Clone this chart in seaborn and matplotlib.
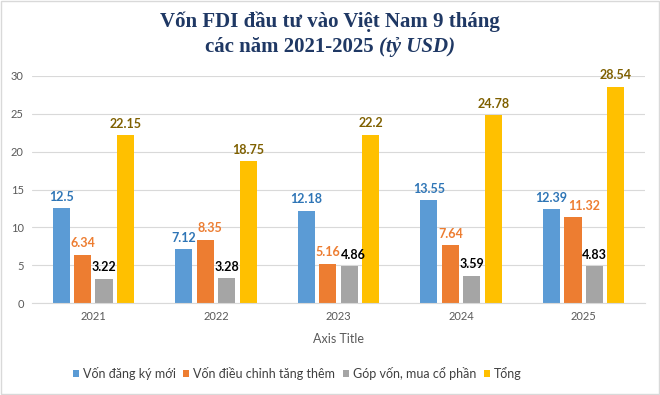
import pandas as pd
import matplotlib.pyplot as plt
import seaborn as sns
from matplotlib.patches import Rectangle

years = ["2021", "2022", "2023", "2024", "2025"]
von_moi = [12.5, 7.12, 12.18, 13.55, 12.39]
dieu_chinh = [6.34, 8.35, 5.16, 7.64, 11.32]
gop_von = [3.22, 3.28, 4.86, 3.59, 4.83]
tong = [22.15, 18.75, 22.2, 24.78, 28.54]
series = ["Vốn đăng ký mới", "Vốn điều chỉnh tăng thêm", "Góp vốn, mua cổ phần", "Tổng"]

bar_colors = ["#5B9BD5", "#ED7D31", "#A5A5A5", "#FFC000"]
label_colors = ["#2E75B6", "#ED7D31", "#000000", "#7F6000"]

df = pd.DataFrame({
    "year": years * 4,
    "value": von_moi + dieu_chinh + gop_von + tong,
    "series": [s for s in series for _ in years],
})

sns.set_style("white")
plt.rcParams["font.family"] = ["Lato", "Noto Sans", "DejaVu Sans"]

fig = plt.figure(figsize=(6.6, 3.95), dpi=100)
ax = fig.add_axes([32 / 660, 1 - 303 / 395, 613 / 660, 227 / 395])

sns.barplot(data=df, x="year", y="value", hue="series", palette=bar_colors,
            saturation=1, width=0.7, gap=0.2, linewidth=0, ax=ax, legend=True)

all_labels = []
for cont, c in zip(ax.containers, label_colors):
    anns = ax.bar_label(cont, labels=[f"{v:g}" for v in cont.datavalues], color=c,
                        fontsize=9, fontweight="bold", padding=4)
    all_labels.append(anns)

ax.set_ylim(0, 30)
ax.set_yticks(range(0, 31, 5))
ax.grid(axis="y", color="#D9D9D9", linewidth=0.8)
ax.set_axisbelow(True)
for s in ["top", "right", "left"]:
    ax.spines[s].set_visible(False)
ax.spines["bottom"].set_color("#D9D9D9")
ax.tick_params(axis="both", length=0, labelsize=8, labelcolor="#595959", pad=6)
ax.set_ylabel("")
ax.set_xlabel("Axis Title", fontsize=9, color="#595959", labelpad=8)

handles, labels = ax.get_legend_handles_labels()
ax.get_legend().remove()
fig.legend(handles, labels, loc="center", bbox_to_anchor=(297 / 660, 1 - 373 / 395),
           ncol=4, frameon=False, fontsize=9, handlelength=0.5, handleheight=0.5,
           handletextpad=0.3, columnspacing=0.6, labelcolor="#404040")

# title, second line has an italic part
title_font = dict(family=["Liberation Serif", "DejaVu Serif"], fontsize=15,
                  fontweight="bold", color="#1F3864")
fig.text(0.5, 1 - 22 / 395, "Vốn FDI đầu tư vào Việt Nam 9 tháng",
         ha="center", va="center", **title_font)
fig.canvas.draw()
r = fig.canvas.get_renderer()
t1 = fig.text(0, 1 - 47 / 395, "các năm 2021-2025 ", ha="left", va="center", **title_font)
t2 = fig.text(0, 1 - 47 / 395, "(tỷ USD)", ha="left", va="center", style="italic", **title_font)
w1 = t1.get_window_extent(r).width
w2 = t2.get_window_extent(r).width
x0 = (660 - w1 - w2) / 2
t1.set_x(x0 / 660)
t2.set_x((x0 + w1) / 660)

# push data labels right when they collide with the previous one in the group
for i in range(len(years)):
    for k in range(1, len(series)):
        prev = all_labels[k - 1][i].get_window_extent(r)
        cur = all_labels[k][i].get_window_extent(r)
        if cur.overlaps(prev):
            shift = prev.x1 - cur.x0 + 1
            dx, dy = all_labels[k][i].xyann
            all_labels[k][i].xyann = (dx + shift * 72 / fig.dpi, dy)

fig.patches.append(Rectangle((0.002, 0.003), 0.996, 0.994, transform=fig.transFigure,
                             fill=False, edgecolor="#D9D9D9", linewidth=1))

fig.savefig("out.png", dpi=100)
